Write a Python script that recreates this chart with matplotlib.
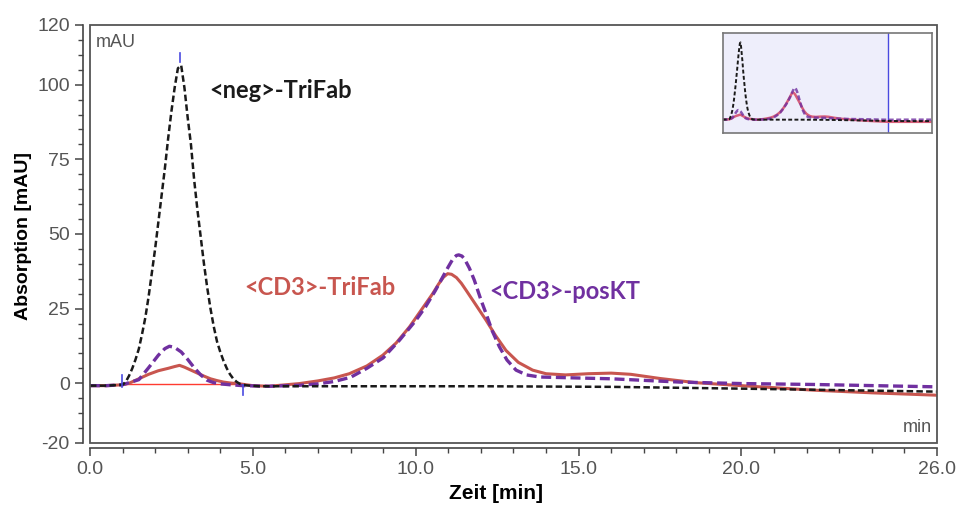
import matplotlib.pyplot as plt
from matplotlib.patches import Rectangle

plt.rcParams['font.family'] = ['Liberation Sans', 'DejaVu Sans']
plt.rcParams['axes.unicode_minus'] = False

# neg-TriFab (black dashed)
neg_t = [0, 0.5, 1.0, 1.1, 1.2, 1.3, 1.4, 1.5, 1.6, 1.7, 1.8, 1.9, 2.0, 2.1, 2.2, 2.3, 2.4, 2.5,
         2.6, 2.7, 2.8, 2.9, 3.0, 3.1, 3.2, 3.3, 3.4, 3.5, 3.6, 3.7, 3.8, 3.9, 4.0, 4.1, 4.2,
         4.3, 4.4, 4.5, 4.6, 4.8, 5.2, 5.5, 8, 12, 16, 20, 23, 26, 29, 32.8]
neg_y = [-0.8, -0.8, -0.5, 0.5, 2.5, 5, 8, 11.5, 16.5, 22, 29, 37, 45, 54, 63, 72, 82, 91,
         99, 105.5, 106.5, 99, 89, 80, 68, 58, 49, 40, 32, 25, 19, 14, 10.5, 7.5, 5,
         3, 1.5, 0.5, -0.2, -0.7, -1.0, -1.0, -1.0, -1.0, -1.2, -1.8, -2.3, -2.8, -3.0, -3.0]

# CD3-posKT (purple dashed)
pos_t = [0, 0.5, 1.0, 1.2, 1.5, 1.8, 2.1, 2.3, 2.44, 2.6, 2.8, 3.0, 3.2, 3.4, 3.6,
         3.8, 4.0, 4.3, 4.7, 5.5, 6.4, 7.0, 7.5, 8.0, 8.5, 9.0, 9.5, 10.0, 10.3, 10.6, 10.83,
         11.0, 11.15, 11.25, 11.32, 11.42, 11.5, 11.65, 11.8, 12.0, 12.16, 12.35, 12.57, 12.8,
         13.08, 13.4, 13.8, 14.5, 16, 18.1, 20, 22.2, 26, 29, 32.8]
pos_y = [-0.8, -0.8, -0.5, 0.2, 1.2, 5.2, 9.4, 11.6, 12.4, 12, 10.5, 8, 5.2, 2.8, 1.0,
         0.2, -0.2, -0.5, -0.8, -1.0, -0.7, -0.2, 0.6, 2.0, 5.0, 8.5, 14.4, 21, 25.6, 31, 35.6,
         39, 41.8, 42.8, 43.0, 42.6, 41.6, 38.5, 34.5, 28, 23.3, 17.5, 12.2, 7.8,
         4.4, 2.8, 2.1, 1.9, 1.5, 0.4, -0.1, -0.4, -1.2, -1.0, -1.0]

# CD3-TriFab (red solid)
tri_t = [0, 0.5, 1.0, 1.2, 1.5, 1.8, 2.1, 2.4, 2.6, 2.75, 2.9, 3.1, 3.3, 3.5, 3.7, 3.9, 4.1,
         4.3, 4.6, 5.0, 5.5, 6.43, 7.0, 7.5, 7.96, 8.5, 8.99, 9.4, 9.81, 10.2, 10.52, 10.7,
         10.85, 10.98, 11.1, 11.25, 11.4, 11.55, 11.85, 12.16, 12.45, 12.77, 13.15, 13.59,
         14.0, 14.6, 15.3, 16.0, 16.6, 17.5, 18.6, 20, 22.2, 24, 26, 29, 32.8]
tri_y = [-0.8, -0.8, -0.5, 0, 1.5, 3.0, 4.2, 5.0, 5.6, 6.0, 5.4, 4.4, 3.4, 2.4, 1.5, 0.9, 0.4,
         0.1, -0.2, -0.8, -1.0, -0.1, 0.8, 1.8, 3.2, 5.8, 9.4, 13.5, 18.9, 25, 30, 33.2,
         35.5, 36.7, 36.5, 35.4, 33.5, 31.1, 26.2, 21.1, 16, 11, 7, 4.4,
         3.2, 2.8, 3.2, 3.4, 3.0, 1.6, 0.2, -0.8, -2.3, -3.2, -4.0, -4.0, -4.0]

# integration baseline and markers
base_t = [0.98, 4.69]
base_y = [-0.4, -0.4]
mark_x = [0.98, 4.69, 2.77]
mark_lo = [-1.2, -4.0, 107.5]
mark_hi = [2.7, -0.7, 110.5]

x_ticks = [0, 5, 10, 15, 20, 26]
x_labels = ["0.0", "5.0", "10.0", "15.0", "20.0", "26.0"]
y_ticks = [-20, 0, 25, 50, 75, 100, 120]

black = '#1a1a1a'
purple = '#7030a0'
red = '#c8564f'
blue = '#4a4ae0'
gray = '#555555'

fig = plt.figure(figsize=(9.59, 5.12), dpi=100)
ax = fig.add_axes([0.0938, 0.1348, 0.8832, 0.8164])

ax.plot(tri_t, tri_y, color=red, lw=2.2, zorder=3)
ax.plot(pos_t, pos_y, color=purple, lw=2.4, dashes=(3, 1.4), zorder=4)
ax.plot(neg_t, neg_y, color=black, lw=1.8, dashes=(2.6, 1.3), zorder=5)
ax.plot(base_t, base_y, color='#ff3b30', lw=1.0, zorder=2)
for mx, lo, hi in zip(mark_x, mark_lo, mark_hi):
    ax.plot([mx, mx], [lo, hi], color=blue, lw=1.2, zorder=6)

ax.set_xlim(0, 26)
ax.set_ylim(-20, 120)
ax.set_xticks(x_ticks)
ax.set_xticklabels(x_labels)
ax.set_xticks(range(0, 27), minor=True)
ax.set_yticks(y_ticks)
ax.set_yticks(range(-20, 121, 5), minor=True)

for s in ['top', 'right']:
    ax.spines[s].set_visible(False)
ax.spines['left'].set_position(('outward', 5))
ax.spines['bottom'].set_position(('outward', 3.6))
for s in ['left', 'bottom']:
    ax.spines[s].set_color('#444444')
    ax.spines[s].set_linewidth(1.2)
ax.add_patch(Rectangle((0, 0), 1, 1, transform=ax.transAxes, fill=False,
                       edgecolor='#555555', lw=1.3, clip_on=False, zorder=10))

ax.tick_params(which='major', direction='out', length=6, width=1.1, color='#444444',
               labelsize=14, labelcolor=gray)
ax.tick_params(which='minor', direction='out', length=3.5, width=1.0, color='#444444')

ax.set_xlabel('Zeit [min]', fontsize=15, fontweight='bold')
ax.set_ylabel('Absorption [mAU]', fontsize=14, fontweight='bold')
ax.xaxis.set_label_coords(0.479, -0.098)
ax.yaxis.set_label_coords(-0.069, 0.495)

ax.text(0.007, 0.959, 'mAU', transform=ax.transAxes, fontsize=13, color=gray,
        va='center', ha='left')
ax.text(0.994, 0.038, 'min', transform=ax.transAxes, fontsize=13, color=gray,
        va='center', ha='right')

ax.text(3.67, 98, '<neg>-TriFab', fontsize=17, fontweight='bold', family='Lato',
        color=black, va='center')
ax.text(4.74, 32, '<CD3>-TriFab', fontsize=17, fontweight='bold', family='Lato',
        color=red, va='center')
ax.text(12.26, 30.8, '<CD3>-posKT', fontsize=17, fontweight='bold', family='Lato',
        color=purple, va='center')

# overview inset
ins = fig.add_axes([0.7536, 0.7396, 0.218, 0.1965])
ins.axvspan(0, 26, color='#eeeefb', lw=0)
ins.axvline(26, color=blue, lw=1.0)
ins.plot(tri_t, tri_y, color='#d9607a', lw=1.8)
ins.plot(pos_t, pos_y, color=purple, lw=1.8, dashes=(2, 1), alpha=0.8)
ins.plot(neg_t, neg_y, color=black, lw=1.4, dashes=(2, 1.2))
ins.set_xlim(0, 32.8)
ins.set_ylim(-20, 120)
ins.set_xticks([])
ins.set_yticks([])
for s in ins.spines.values():
    s.set_color('#777777')
    s.set_linewidth(1.2)

fig.savefig('out.png', dpi=100)
